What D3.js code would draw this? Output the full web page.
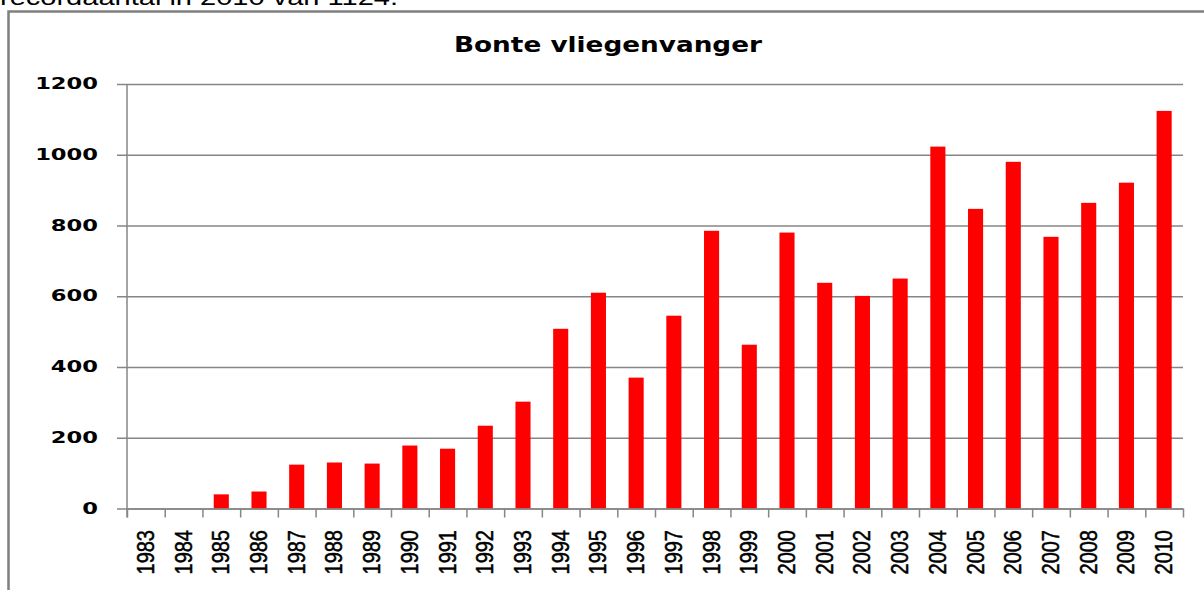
<!DOCTYPE html>
<html>
<head>
<meta charset="utf-8">
<script src="https://cdn.jsdelivr.net/npm/d3@7/dist/d3.min.js"></script>
<style>
  body { margin: 0; background: #fff; }
  svg { display: block; }
</style>
</head>
<body>
<svg id="chart" width="1204" height="590"></svg>
<script>
const years = ['1983', '1984', '1985', '1986', '1987', '1988', '1989', '1990', '1991', '1992',
  '1993', '1994', '1995', '1996', '1997', '1998', '1999', '2000', '2001', '2002',
  '2003', '2004', '2005', '2006', '2007', '2008', '2009', '2010'];
const counts = [0, 0, 40, 48, 124, 130, 127, 178, 169, 234,
  302, 508, 610, 370, 545, 785, 463, 780, 638, 601,
  650, 1023, 847, 980, 768, 864, 921, 1124];
const yTicks = [0, 200, 400, 600, 800, 1000, 1200];
const title = 'Bonte vliegenvanger';
const caption = 'recordaantal in 2010 van 1124.';

const svg = d3.select('#chart');
const plotLeft = 127, plotRight = 1183, plotTop = 84, plotBottom = 508.5;
const grey = '#868686';

// frame round the chart (runs off the picture)
svg.append('rect')
  .attr('x', 8.5).attr('y', 11.5)
  .attr('width', 1400).attr('height', 800)
  .attr('fill', 'none').attr('stroke', '#7f7f7f').attr('stroke-width', 2.5);

// cut-off line of text above the frame
svg.append('text')
  .attr('x', 0).attr('y', 5)
  .attr('font-family', 'Liberation Sans, Arial, sans-serif')
  .attr('font-size', 22)
  .attr('textLength', 398).attr('lengthAdjust', 'spacingAndGlyphs')
  .text(caption);

svg.append('text')
  .attr('x', 608).attr('y', 52)
  .attr('text-anchor', 'middle')
  .attr('font-family', 'DejaVu Sans, sans-serif')
  .attr('font-weight', 'bold')
  .attr('font-size', 21)
  .attr('textLength', 308).attr('lengthAdjust', 'spacingAndGlyphs')
  .text(title);

const y = d3.scaleLinear().domain([0, 1200]).range([plotBottom, plotTop]);
const x = d3.scaleBand().domain(years).range([plotLeft, plotRight]).paddingInner(0.6).paddingOuter(0.3);
const edges = d3.scaleLinear().domain([0, years.length]).range([plotLeft, plotRight]);

// gridlines + y axis
const yAxis = svg.append('g')
  .attr('transform', `translate(${plotLeft},0)`)
  .call(d3.axisLeft(y).tickValues(yTicks).tickFormat(d3.format('d'))
    .tickSize(-(plotRight - plotLeft)).tickSizeOuter(0));
yAxis.select('.domain').remove();
yAxis.selectAll('.tick line')
  .attr('x1', -10)
  .attr('stroke', grey).attr('stroke-width', 1.5);
// the labels in the picture are wide, so stretch them sideways
yAxis.selectAll('.tick text')
  .attr('x', 0)
  .attr('dy', '0.28em')
  .attr('transform', 'translate(-29,0) scale(1.37,1)')
  .attr('font-family', 'DejaVu Sans, sans-serif')
  .attr('font-weight', 'bold')
  .attr('font-size', 16.5)
  .attr('fill', '#000');

svg.append('line')
  .attr('x1', plotLeft).attr('x2', plotLeft)
  .attr('y1', plotTop).attr('y2', plotBottom + 9)
  .attr('stroke', grey).attr('stroke-width', 1.5);

// bars
svg.append('g').selectAll('rect')
  .data(years)
  .join('rect')
  .attr('x', d => x(d))
  .attr('width', x.bandwidth())
  .attr('y', (d, i) => y(counts[i]))
  .attr('height', (d, i) => plotBottom - y(counts[i]))
  .attr('fill', '#ff0000');

// category boundary ticks
const xTicks = svg.append('g')
  .attr('transform', `translate(0,${plotBottom})`)
  .call(d3.axisBottom(edges).tickValues(d3.range(years.length + 1)).tickFormat('').tickSize(9).tickSizeOuter(0));
xTicks.select('.domain').attr('stroke', grey).attr('stroke-width', 1.5);
xTicks.selectAll('.tick line').attr('stroke', grey).attr('stroke-width', 1.5);

// rotated year labels, a little condensed along the text
svg.append('g').selectAll('text')
  .data(years)
  .join('text')
  .attr('transform', d => `translate(${x(d) + x.bandwidth() / 2 + 8},530) rotate(-90) scale(0.87,1)`)
  .attr('text-anchor', 'end')
  .attr('font-family', 'Liberation Sans, Arial, sans-serif')
  .attr('font-size', 23)
  .attr('fill', '#000')
  .attr('stroke', '#000').attr('stroke-width', 0.5)
  .text(d => d);
</script>
</body>
</html>
